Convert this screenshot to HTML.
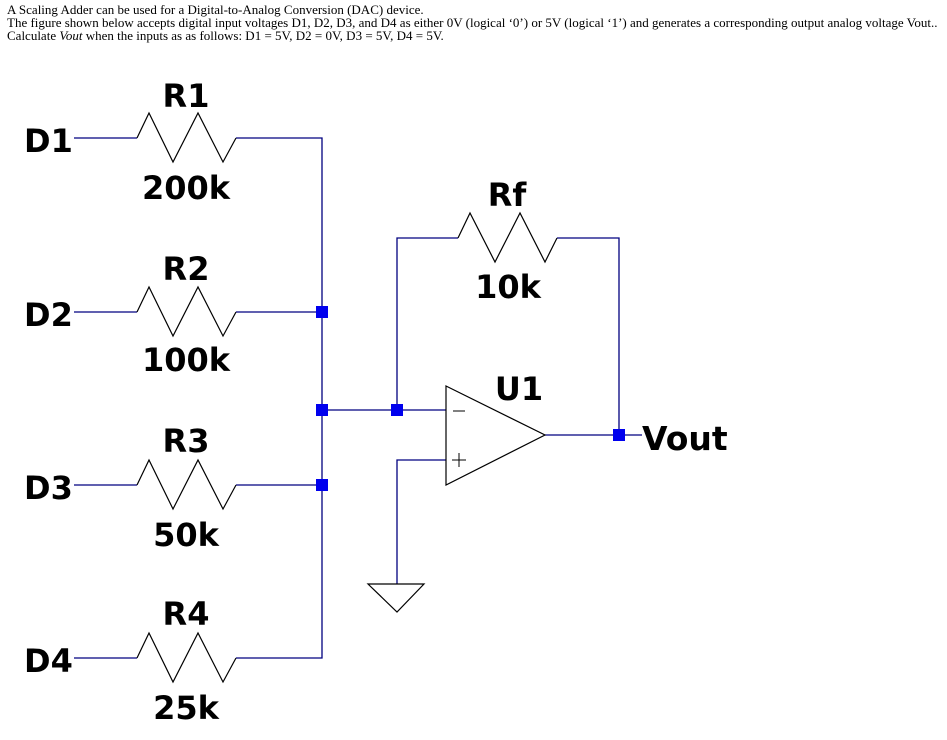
<!DOCTYPE html>
<html><head><meta charset="utf-8"><style>
html,body{margin:0;padding:0;background:#fff;width:947px;height:740px;overflow:hidden;}
.hdr{position:absolute;left:7px;top:3px;font-family:"Liberation Serif",serif;font-size:13px;line-height:13px;color:#000;white-space:nowrap;}
svg{position:absolute;left:0;top:0;}
.t{font-family:"DejaVu Sans",sans-serif;font-weight:bold;font-size:32px;fill:#000;}
</style></head><body>
<div class="hdr">A Scaling Adder can be used for a Digital-to-Analog Conversion (DAC) device.<br>The figure shown below accepts digital input voltages D1, D2, D3, and D4 as either 0V (logical ‘0’) or 5V (logical ‘1’) and generates a corresponding output analog voltage Vout..<br>Calculate <i>Vout</i> when the inputs as as follows: D1 = 5V, D2 = 0V, D3 = 5V, D4 = 5V.</div>
<svg width="947" height="740" viewBox="0 0 947 740">
<g fill="none" stroke="#000080" stroke-width="1.3">
<line x1="74" y1="138" x2="137" y2="138"/>
<line x1="74" y1="312" x2="137" y2="312"/>
<line x1="74" y1="485" x2="137" y2="485"/>
<line x1="74" y1="658" x2="137" y2="658"/>
<polyline points="236,138 322,138 322,658 236,658"/>
<line x1="236" y1="312" x2="322" y2="312"/>
<line x1="236" y1="485" x2="322" y2="485"/>
<polyline points="322,410 446,410"/>
<polyline points="397,410 397,238 458,238"/>
<polyline points="557,238 619,238 619,435 545,435"/>
<polyline points="446,460 397,460 397,584"/>
<line x1="619" y1="435" x2="642" y2="435"/>
</g>
<g fill="none" stroke="#000" stroke-width="1.2">
<polyline points="137,138 149,113 173,162 198,113 223,162 236,138"/>
<polyline points="137,312 149,287 173,336 198,287 223,336 236,312"/>
<polyline points="137,485 149,460 173,509 198,460 223,509 236,485"/>
<polyline points="137,658 149,633 173,682 198,633 223,682 236,658"/>
<polyline points="458,238 470,213 495,262 520,213 545,262 557,238"/>
<polygon points="446,386 545,435 446,485" fill="#fff"/>
<polygon points="368,584 424,584 397,612" fill="#fff"/>
<line x1="453" y1="411" x2="465" y2="411" stroke-width="1"/>
<line x1="452" y1="460" x2="466" y2="460" stroke-width="1"/>
<line x1="459" y1="453" x2="459" y2="467" stroke-width="1"/>
</g>
<g fill="#0000ee">
<rect x="316" y="306" width="12" height="12"/>
<rect x="316" y="404" width="12" height="12"/>
<rect x="316" y="479" width="12" height="12"/>
<rect x="391" y="404" width="12" height="12"/>
<rect x="613" y="429" width="12" height="12"/>
</g>
<g class="t">
<text x="24" y="152">D1</text>
<text x="24" y="326">D2</text>
<text x="24" y="499">D3</text>
<text x="24" y="672">D4</text>
<text x="186" y="107" text-anchor="middle">R1</text>
<text x="186" y="199" text-anchor="middle">200k</text>
<text x="186" y="280" text-anchor="middle">R2</text>
<text x="186" y="371" text-anchor="middle">100k</text>
<text x="186" y="452" text-anchor="middle">R3</text>
<text x="186" y="546" text-anchor="middle">50k</text>
<text x="186" y="625" text-anchor="middle">R4</text>
<text x="186" y="719" text-anchor="middle">25k</text>
<text x="507" y="206" text-anchor="middle">Rf</text>
<text x="508" y="298" text-anchor="middle">10k</text>
<text x="519" y="400" text-anchor="middle">U1</text>
<text x="642" y="450" style="font-size:33px">Vout</text>
</g>
</svg>
</body></html>
